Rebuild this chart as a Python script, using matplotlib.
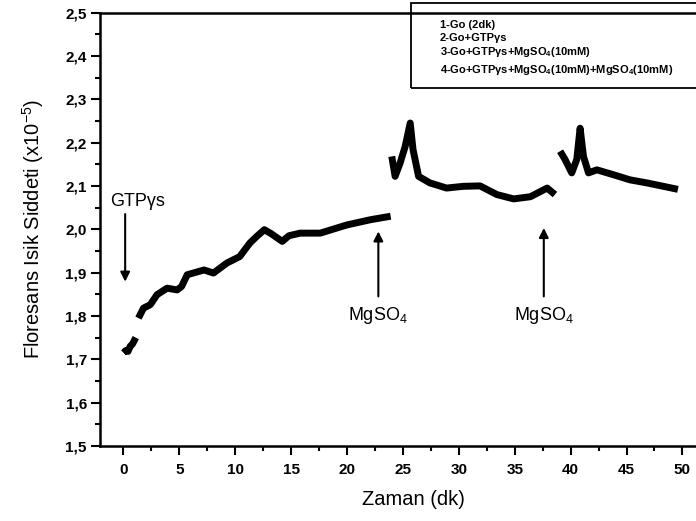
import matplotlib
matplotlib.use("Agg")
import matplotlib.pyplot as plt
from matplotlib.ticker import MultipleLocator, FuncFormatter
from matplotlib.patches import Rectangle

plt.rcParams["font.family"] = ["Liberation Sans", "DejaVu Sans"]
plt.rcParams["mathtext.default"] = "regular"

# trace segments (time in min, intensity x1e-5)
seg1_x = [0.0, 0.2, 0.4, 0.6, 0.8, 1.0, 1.1]
seg1_y = [1.715, 1.720, 1.718, 1.730, 1.735, 1.745, 1.750]

seg2_x = [1.34, 1.79, 2.4, 3.0, 3.9, 4.8, 5.2, 5.7, 7.2, 8.05, 9.25, 10.4,
          11.3, 11.9, 12.6, 13.2, 14.2, 14.8, 15.8, 17.6, 20.0, 22.1, 23.9]
seg2_y = [1.795, 1.818, 1.826, 1.849, 1.864, 1.860, 1.868, 1.895, 1.906, 1.899,
          1.922, 1.937, 1.968, 1.983, 1.999, 1.990, 1.972, 1.985, 1.991, 1.991,
          2.010, 2.022, 2.030]

seg3_x = [24.0, 24.3, 24.75, 25.2, 25.65, 25.9, 26.4, 27.4, 28.9, 30.4, 31.9,
          33.4, 34.9, 36.4, 37.9, 38.6]
seg3_y = [2.168, 2.122, 2.153, 2.191, 2.245, 2.184, 2.122, 2.107, 2.095, 2.099,
          2.100, 2.080, 2.070, 2.075, 2.095, 2.080]

seg4_x = [39.06, 39.5, 40.1, 40.55, 40.85, 41.15, 41.6, 42.35, 43.8, 45.3,
          46.8, 48.3, 49.6]
seg4_y = [2.180, 2.161, 2.130, 2.161, 2.233, 2.168, 2.130, 2.137, 2.126, 2.114,
          2.107, 2.099, 2.092]

legend_lines = [
    "1-Go (2dk)",
    "2-Go+GTPγs",
    "3-Go+GTPγs+MgSO$_4$(10mM)",
    "4-Go+GTPγs+MgSO$_4$(10mM)+MgSO$_4$(10mM)",
]

fig = plt.figure(figsize=(6.96, 5.21), dpi=100)
ax = fig.add_axes([0.1437, 0.144, 0.901, 0.832])

for sx, sy in [(seg1_x, seg1_y), (seg2_x, seg2_y), (seg3_x, seg3_y), (seg4_x, seg4_y)]:
    ax.plot(sx, sy, color="black", lw=5, solid_joinstyle="round",
            solid_capstyle="butt")

ax.set_xlim(-2.1, 54.0)
ax.set_ylim(1.5, 2.5)

ax.xaxis.set_major_locator(MultipleLocator(5))
ax.xaxis.set_minor_locator(MultipleLocator(2.5))
ax.yaxis.set_major_locator(MultipleLocator(0.1))
ax.yaxis.set_minor_locator(MultipleLocator(0.05))
ax.yaxis.set_major_formatter(FuncFormatter(lambda v, p: f"{v:.1f}".replace(".", ",")))
ax.xaxis.set_major_formatter(FuncFormatter(lambda v, p: f"{v:.0f}"))

ax.tick_params(which="major", direction="out", length=6.5, width=1.5,
               labelsize=11, pad=3)
ax.tick_params(axis="x", which="major", pad=6)
ax.tick_params(which="minor", direction="out", length=3.5, width=1.5)
for lab in ax.get_xticklabels() + ax.get_yticklabels():
    lab.set_fontweight("bold")
for sp in ax.spines.values():
    sp.set_linewidth(1.8)

ax.set_xlabel("Zaman (dk)", fontsize=14.5, labelpad=9)
ax.set_ylabel("Floresans Isik Siddeti (x10$^{-5}$)", fontsize=14.5, labelpad=14)

# event arrows
arrow_kw = dict(arrowstyle="-|>", lw=1.5, color="black", mutation_scale=14,
                shrinkA=0, shrinkB=0)
ax.annotate("", xy=(0.15, 1.879), xytext=(0.15, 2.035), arrowprops=arrow_kw)
ax.text(1.3, 2.045, "GTPγs", fontsize=13, ha="center", va="bottom")

for xa, tip in [(22.8, 1.995), (37.6, 2.003)]:
    ax.annotate("", xy=(xa, tip), xytext=(xa, 1.845), arrowprops=arrow_kw)
    ax.text(xa, 1.826, "MgSO$_4$", fontsize=13, ha="center", va="top")

# legend box drawn by hand, it runs off the right edge
fig.patches.append(Rectangle((411 / 696, 1 - 88 / 521), 0.5, 85 / 521,
                             transform=fig.transFigure, fill=False,
                             lw=1.3, edgecolor="black"))
for txt, ypx in zip(legend_lines, [25, 38.3, 52.3, 70]):
    fig.text(440 / 696, 1 - ypx / 521, txt, fontsize=8, fontweight="bold",
             ha="left", va="center")

fig.savefig("out.png", dpi=100)
